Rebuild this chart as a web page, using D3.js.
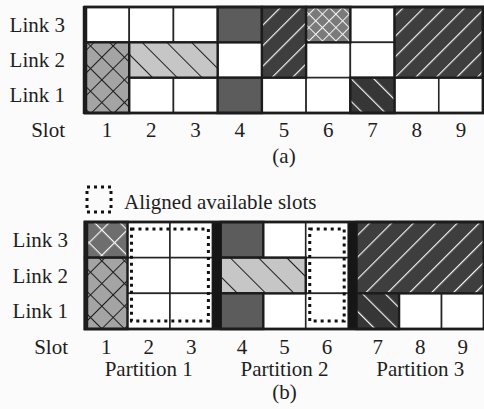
<!DOCTYPE html>
<html>
<head>
<meta charset="utf-8">
<script src="https://cdn.jsdelivr.net/npm/d3@7"></script>
<style>
  body { margin: 0; background: #fbfbfb; }
  svg { display: block; }
  text { font-family: "Liberation Serif", "Times New Roman", serif; fill: #1e1e1e; }
</style>
</head>
<body>
<div id="chart"></div>
<script>

// slots and links (top row first)
var slots = [1, 2, 3, 4, 5, 6, 7, 8, 9];
var links = [3, 2, 1];
var partitions = ["Partition 1", "Partition 2", "Partition 3"];

// occupied spectrum blocks: slot range, link range, fill kind
var blocksA = [
  { slots: [1, 1], links: [1, 2], kind: "crossK" },
  { slots: [2, 3], links: [2, 2], kind: "backK" },
  { slots: [4, 4], links: [3, 3], kind: "solid" },
  { slots: [4, 4], links: [1, 1], kind: "solid" },
  { slots: [5, 5], links: [2, 3], kind: "fwdW" },
  { slots: [6, 6], links: [3, 3], kind: "crossW" },
  { slots: [7, 7], links: [1, 1], kind: "backW" },
  { slots: [8, 9], links: [2, 3], kind: "fwdW" }
];
var blocksB = [
  { slots: [1, 1], links: [3, 3], kind: "crossW" },
  { slots: [1, 1], links: [1, 2], kind: "crossK" },
  { slots: [4, 4], links: [3, 3], kind: "solid" },
  { slots: [4, 5], links: [2, 2], kind: "backK" },
  { slots: [4, 4], links: [1, 1], kind: "solid" },
  { slots: [7, 9], links: [2, 3], kind: "fwdW" },
  { slots: [7, 7], links: [1, 1], kind: "backW" }
];
// aligned available slots in (b)
var alignedB = [
  { slots: [2, 3], links: [1, 3] },
  { slots: [6, 6], links: [1, 3] }
];

var W = 484, H = 409;
var FS = 21;
var svg = d3.select("#chart").append("svg").attr("width", W).attr("height", H);
var defs = svg.append("defs");

// pattern fills: bg colour, line colour, spacing, angle, cross or not
function makePattern(id, bg, line, s, angle, cross, lw) {
  var p = defs.append("pattern")
    .attr("id", id)
    .attr("patternUnits", "userSpaceOnUse")
    .attr("width", s).attr("height", s)
    .attr("patternTransform", "rotate(" + angle + ")");
  p.append("rect").attr("width", s).attr("height", s).attr("fill", bg);
  p.append("line").attr("x1", 0).attr("y1", 0).attr("x2", 0).attr("y2", s)
    .attr("stroke", line).attr("stroke-width", lw);
  if (cross) {
    p.append("line").attr("x1", 0).attr("y1", 0).attr("x2", s).attr("y2", 0)
      .attr("stroke", line).attr("stroke-width", lw);
  }
}
makePattern("a-crossK", "#a4a4a4", "#1c1c1c", 16, 45, true, 2);
makePattern("a-backK", "#c6c6c6", "#1c1c1c", 17.5, -45, false, 2);
makePattern("a-fwdW", "#3e3e3e", "#f4f4f4", 14.5, 45, false, 2.4);
makePattern("a-crossW", "#7a7a7a", "#f4f4f4", 9.5, 45, true, 2);
makePattern("a-backW", "#363636", "#f4f4f4", 16, -45, false, 2.4);
makePattern("b-crossK", "#a4a4a4", "#1c1c1c", 16, 45, true, 2);
makePattern("b-backK", "#c6c6c6", "#1c1c1c", 20, -45, false, 2);
makePattern("b-fwdW", "#3e3e3e", "#f4f4f4", 15.5, 45, false, 2.4);
makePattern("b-crossW", "#6e6e6e", "#f4f4f4", 18, 45, true, 2.4);
makePattern("b-backW", "#363636", "#f4f4f4", 16, -45, false, 2.4);

function fillFor(panel, kind) {
  if (kind === "solid") return "#5c5c5c";
  return "url(#" + panel + "-" + kind + ")";
}

// ---------- panel (a) ----------
var xa = d3.scaleBand().domain(slots).range([85, 483]);
var ya = d3.scaleBand().domain(links).range([7, 113]);

// ---------- panel (b) ----------
var xp = d3.scaleBand().domain(partitions).range([85, 484]).paddingInner(0.062);
var xs = d3.scaleBand().domain([0, 1, 2]).range([0, xp.bandwidth()]);
function xbPos(slot) {
  var pi = Math.floor((slot - 1) / 3);
  return xp(partitions[pi]) + xs((slot - 1) % 3);
}
var xb = { pos: xbPos, bw: xs.bandwidth() };
var yb = d3.scaleBand().domain(links).range([222, 329]);

function drawPanel(panel, g, xpos, bw, y, blocks, labelX) {
  var cells = [];
  slots.forEach(function(s) { links.forEach(function(l) { cells.push({ s: s, l: l }); }); });

  g.selectAll("rect.cell").data(cells).enter().append("rect")
    .attr("class", "cell")
    .attr("x", function(d) { return xpos(d.s); })
    .attr("y", function(d) { return y(d.l); })
    .attr("width", bw).attr("height", y.bandwidth())
    .attr("fill", "#ffffff").attr("stroke", "#262626").attr("stroke-width", 1.6);

  g.selectAll("rect.block").data(blocks).enter().append("rect")
    .attr("class", "block")
    .attr("x", function(d) { return xpos(d.slots[0]); })
    .attr("y", function(d) { return y(d.links[1]); })
    .attr("width", function(d) { return xpos(d.slots[1]) + bw - xpos(d.slots[0]); })
    .attr("height", function(d) { return y(d.links[0]) + y.bandwidth() - y(d.links[1]); })
    .attr("fill", function(d) { return fillFor(panel, d.kind); })
    .attr("stroke", "#1c1c1c").attr("stroke-width", 2.4);

  // link labels
  g.selectAll("text.link").data(links).enter().append("text")
    .attr("class", "link")
    .attr("x", labelX)
    .attr("y", function(d) { return y(d) + y.bandwidth() / 2 + 7; })
    .attr("text-anchor", "end").attr("font-size", FS)
    .text(function(d) { return "Link " + d; });
}

var ga = svg.append("g");
drawPanel("a", ga, function(s) { return xa(s); }, xa.bandwidth(), ya, blocksA, 65);
// outer frame
ga.append("rect").attr("x", xa(1)).attr("y", ya.range()[0])
  .attr("width", xa.range()[1] - xa(1)).attr("height", ya.range()[1] - ya.range()[0])
  .attr("fill", "none").attr("stroke", "#1c1c1c").attr("stroke-width", 2.8);
ga.append("line").attr("x1", xa(1)).attr("x2", xa(1)).attr("y1", 6).attr("y2", 114)
  .attr("stroke", "#1c1c1c").attr("stroke-width", 4.5);
ga.append("text").attr("x", 65).attr("y", 137).attr("text-anchor", "end").attr("font-size", FS).text("Slot");
ga.selectAll("text.slot").data(slots).enter().append("text")
  .attr("class", "slot")
  .attr("x", function(d) { return xa(d) + xa.bandwidth() / 2; })
  .attr("y", 137).attr("text-anchor", "middle").attr("font-size", FS)
  .text(function(d) { return d; });
ga.append("text").attr("x", (xa(5) + xa.bandwidth() / 2)).attr("y", 163)
  .attr("text-anchor", "middle").attr("font-size", FS).text("(a)");

var gb = svg.append("g");
drawPanel("b", gb, xb.pos, xb.bw, yb, blocksB, 68);
// partition separators
gb.selectAll("rect.sep").data([1, 2]).enter().append("rect")
  .attr("class", "sep")
  .attr("x", function(i) { return xp(partitions[i - 1]) + xp.bandwidth(); })
  .attr("y", yb.range()[0])
  .attr("width", function(i) { return xp(partitions[i]) - xp(partitions[i - 1]) - xp.bandwidth(); })
  .attr("height", yb.range()[1] - yb.range()[0])
  .attr("fill", "#161616");
gb.append("rect").attr("x", xp.range()[0]).attr("y", yb.range()[0])
  .attr("width", xp.range()[1] - xp.range()[0]).attr("height", yb.range()[1] - yb.range()[0])
  .attr("fill", "none").attr("stroke", "#1c1c1c").attr("stroke-width", 2.8);
gb.append("line").attr("x1", xp.range()[0] + 1).attr("x2", xp.range()[0] + 1).attr("y1", 221).attr("y2", 330)
  .attr("stroke", "#1c1c1c").attr("stroke-width", 4.5);

// aligned available slots (dotted)
gb.selectAll("rect.aligned").data(alignedB).enter().append("rect")
  .attr("class", "aligned")
  .attr("x", function(d) { return xb.pos(d.slots[0]) + 4; })
  .attr("y", function(d) { return yb(d.links[1]) + 7; })
  .attr("width", function(d) { return xb.pos(d.slots[1]) + xb.bw - xb.pos(d.slots[0]) - 8; })
  .attr("height", function(d) { return yb(d.links[0]) + yb.bandwidth() - yb(d.links[1]) - 15; })
  .attr("fill", "none").attr("stroke", "#111").attr("stroke-width", 3)
  .attr("stroke-dasharray", "3,4");

gb.append("text").attr("x", 68).attr("y", 354).attr("text-anchor", "end").attr("font-size", FS).text("Slot");
gb.selectAll("text.slot").data(slots).enter().append("text")
  .attr("class", "slot")
  .attr("x", function(d) { return xb.pos(d) + xb.bw / 2; })
  .attr("y", 354).attr("text-anchor", "middle").attr("font-size", FS)
  .text(function(d) { return d; });
gb.selectAll("text.part").data(partitions).enter().append("text")
  .attr("class", "part")
  .attr("x", function(d) { return xp(d) + xp.bandwidth() / 2; })
  .attr("y", 376).attr("text-anchor", "middle").attr("font-size", FS)
  .text(function(d) { return d; });
gb.append("text").attr("x", xb.pos(5) + xb.bw / 2).attr("y", 399)
  .attr("text-anchor", "middle").attr("font-size", FS).text("(b)");

// legend
svg.append("rect").attr("x", 87).attr("y", 187).attr("width", 24).attr("height", 25)
  .attr("fill", "none").attr("stroke", "#111").attr("stroke-width", 3)
  .attr("stroke-dasharray", "3,4");
svg.append("text").attr("x", 124).attr("y", 209).attr("font-size", FS).text("Aligned available slots");

</script>
</body>
</html>
